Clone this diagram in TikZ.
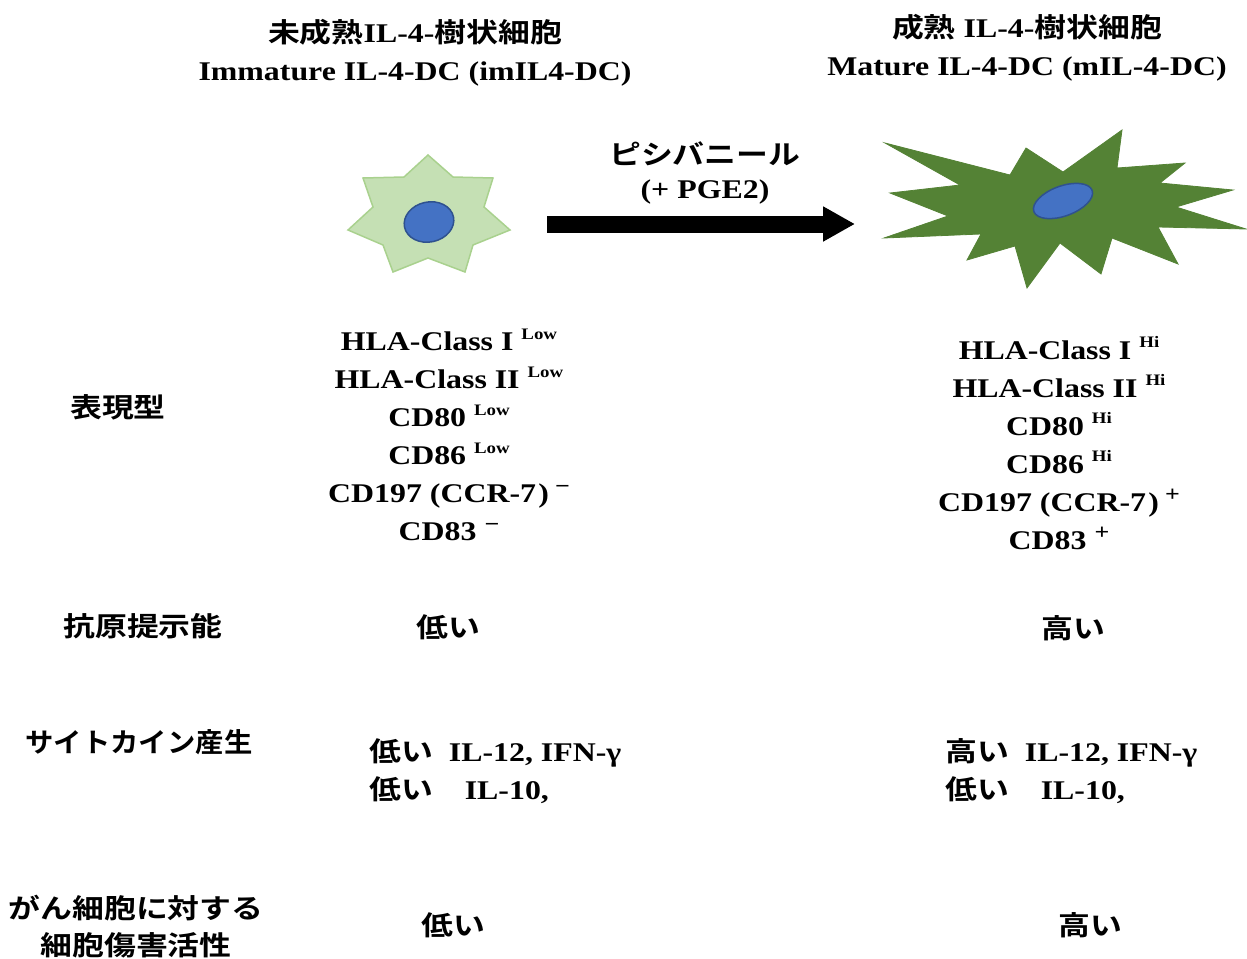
\documentclass[tikz,border=0pt]{standalone}
\usepackage{fontspec}
\setmainfont{Liberation Serif}
\newfontfamily\jpfont{Noto Sans CJK JP}[BoldFont={Noto Sans CJK JP Bold}]
\usetikzlibrary{arrows.meta}
\newcommand{\J}[1]{{\jpfont\bfseries #1}}
\newcommand{\hiSup}[1]{\raisebox{0.42em}{\fontsize{16}{16}\selectfont #1}}
\newcommand{\signSup}[1]{\raisebox{0.34em}{\fontsize{22}{22}\selectfont #1}}
\newcommand{\closeParen}{\kern2pt)\kern5pt}
\definecolor{immFill}{HTML}{C5E0B4}
\definecolor{immLine}{HTML}{A9D18E}
\definecolor{matFill}{HTML}{548235}
\definecolor{nucFill}{HTML}{4472C4}
\definecolor{nucLine}{HTML}{2F528F}
\tikzset{
  txt/.style={inner sep=0pt, xscale=1.18, font=\bfseries\fontsize{27}{38}\selectfont},
  rowlabel/.style={txt, font=\jpfont\bfseries\fontsize{27}{37}\selectfont, align=center},
  markers/.style={txt, align=center},
  cellImm/.style={fill=immFill, draw=immLine, line width=1.5pt, line join=miter},
  cellMat/.style={fill=matFill, draw=matFill, line width=0.8pt, line join=miter},
  nucleus/.style={fill=nucFill, draw=nucLine, line width=1.5pt},
  blockarrow/.style={line width=17pt, -{Triangle[length=32pt,width=33pt]}}
}
\begin{document}
\begin{tikzpicture}[x=1pt,y=-1pt]
\useasboundingbox (0,0) rectangle (1247,958);

% column titles
\node[txt, align=center] (titleImm) at (415,53) {\J{未成熟}IL-4-\J{樹状細胞}\\Immature IL-4-DC (imIL4-DC)};
\node[txt, align=center] (titleMat) at (1027,48) {\J{成熟} IL-4-\J{樹状細胞}\\Mature IL-4-DC (mIL-4-DC)};

% immature dendritic cell
\draw[cellImm] (428,155) -- (453,177) -- (493,178) -- (484,207) -- (510,230)
  -- (473,245) -- (465,272) -- (428,258) -- (393,272) -- (383,245)
  -- (348,230) -- (373,207) -- (363,178) -- (404,177) -- cycle;
\draw[nucleus] (429,222) ellipse [x radius=25, y radius=20, rotate=12];

% mature dendritic cell
\draw[cellMat] (885,143) -- (1010,175) -- (1026,148) -- (1063,172) -- (1122,130)
  -- (1117,168) -- (1185,163) -- (1160,183) -- (1233,190) -- (1176,207)
  -- (1246,229) -- (1158,227) -- (1178,264) -- (1112,238) -- (1101,274)
  -- (1060,243) -- (1027,288) -- (1015,246) -- (967,260) -- (981,234)
  -- (884,238) -- (948,216) -- (890,193) -- (960,185) -- cycle;
\draw[nucleus] (1063,201) ellipse [x radius=31, y radius=15, rotate=20];

% maturation step
\coordinate (arrStart) at (547,224);
\coordinate (arrEnd) at (855,224);
\draw[blockarrow] (arrStart) -- (arrEnd);
\node[txt, font=\jpfont\bfseries\fontsize{27}{37}\selectfont] (drug) at (705,154) {ピシバニール};
\node[txt] (pge) at (705,192) {(+ PGE2)};

% row labels
\node[rowlabel] (rowPheno) at (118,407) {表現型};
\node[rowlabel] (rowAPC) at (143,626) {抗原提示能};
\node[rowlabel, xscale=1.05/1.18] (rowCyto) at (139,742) {サイトカイン産生};
\node[rowlabel] (rowCTL) at (136,927) {がん細胞に対する\\細胞傷害活性};

% phenotype markers
\node[markers] (phenoImm) at (449,435) {HLA-Class I \hiSup{Low}\\HLA-Class II \hiSup{Low}\\CD80 \hiSup{Low}\\CD86 \hiSup{Low}\\CD197 (CCR-7\closeParen\signSup{−}\\CD83 \signSup{−}};
\node[markers] (phenoMat) at (1059,443) {HLA-Class I \hiSup{Hi}\\HLA-Class II \hiSup{Hi}\\CD80 \hiSup{Hi}\\CD86 \hiSup{Hi}\\CD197 (CCR-7\closeParen\signSup{+}\\CD83 \signSup{+}};

% antigen presentation
\node[txt] (apcImm) at (448,627) {\J{低い}};
\node[txt] (apcMat) at (1073,628) {\J{高い}};

% cytokine production
\node[txt, align=left, anchor=west] (cytoImm) at (369,771) {\J{低い}\ \ IL-12, IFN-γ\\\J{低い}\ \ \ \ IL-10,};
\node[txt, align=left, anchor=west] (cytoMat) at (945,771) {\J{高い}\ \ IL-12, IFN-γ\\\J{低い}\ \ \ \ IL-10,};

% cytotoxicity
\node[txt] (ctlImm) at (453,925) {\J{低い}};
\node[txt] (ctlMat) at (1090,925) {\J{高い}};
\end{tikzpicture}
\end{document}
